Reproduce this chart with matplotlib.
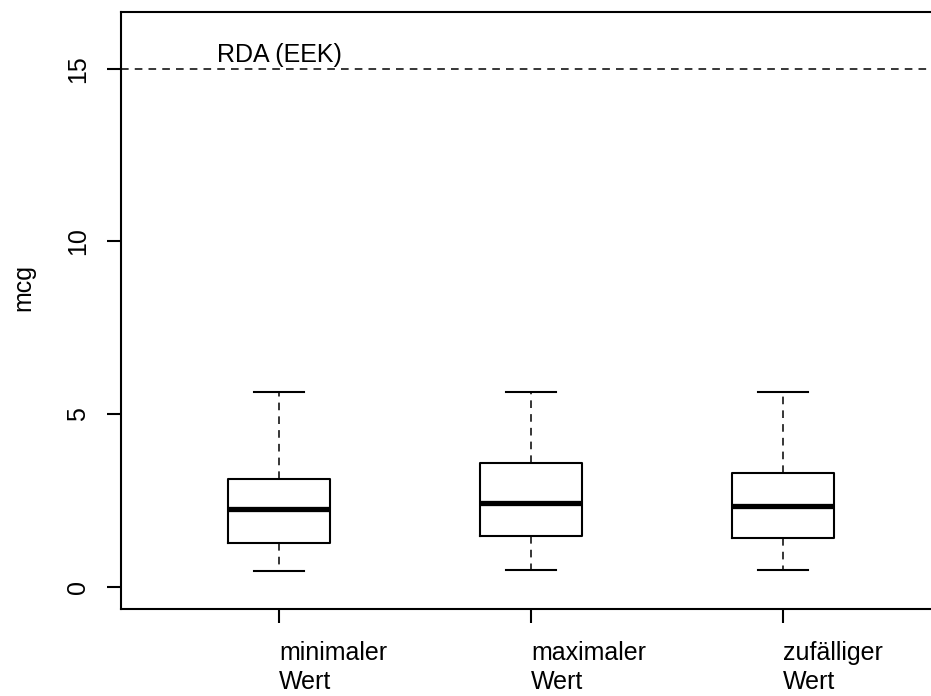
import matplotlib.pyplot as plt

plt.rcParams['font.family'] = ['Liberation Sans', 'DejaVu Sans']

labels = ["minimaler\nWert", "maximaler\nWert", "zufälliger\nWert"]
whislo = [0.45, 0.49, 0.49]
q1 = [1.26, 1.47, 1.42]
med = [2.25, 2.42, 2.34]
q3 = [3.13, 3.57, 3.30]
whishi = [5.63, 5.65, 5.65]
rda = 15

W, H = 931, 696
fig = plt.figure(figsize=(W / 100, H / 100), dpi=100)
ax = fig.add_axes([121 / W, 1 - 609 / H, 813 / W, 597 / H])

stats = []
for i in range(3):
    stats.append(dict(whislo=whislo[i], q1=q1[i], med=med[i], q3=q3[i],
                      whishi=whishi[i], fliers=[], label=labels[i]))

dash = (0, (5, 4))
ax.bxp(stats, positions=[1, 2, 3], widths=0.405, showfliers=False,
       boxprops=dict(color='black', lw=1.5),
       medianprops=dict(color='black', lw=3.8, solid_capstyle='butt'),
       whiskerprops=dict(color='black', lw=1.1, linestyle=dash),
       capprops=dict(color='black', lw=1.5), capwidths=0.2)

ax.axhline(rda, color='black', lw=1.1, linestyle=dash)
ax.annotate("RDA (EEK)", xy=(1, rda), xytext=(0, 1.5), textcoords='offset points',
            ha='center', va='bottom', fontsize=18)

ax.set_xlim(0.373, 3.6)
ax.set_ylim(-0.646, 16.64)
ax.set_yticks([0, 5, 10, 15])
ax.set_xticks([1, 2, 3])
ax.set_xticklabels(labels, ha='left', linespacing=1.25)
ax.tick_params(axis='y', labelsize=18, length=10, width=1.5, pad=12, labelrotation=90)
for t in ax.get_yticklabels():
    t.set_va('center')
ax.tick_params(axis='x', labelsize=18, length=10, width=1.5, pad=13)
for s in ['left', 'top', 'bottom']:
    ax.spines[s].set_linewidth(1.5)
ax.spines['right'].set_visible(False)

fig.text(23 / W, 1 - 288 / H, "mcg", rotation=90, ha='center', va='center', fontsize=18)

fig.savefig("out.png", dpi=100)
